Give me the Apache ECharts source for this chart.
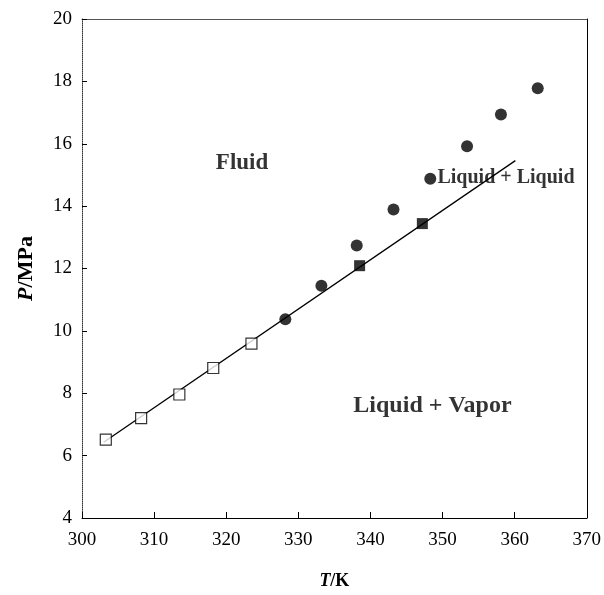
<!DOCTYPE html>
<html><head><meta charset="utf-8">
<script src="https://cdn.jsdelivr.net/npm/echarts@6/dist/echarts.min.js"></script>
<style>html,body{margin:0;padding:0;background:#fff}#c{width:604px;height:595px}</style>
</head><body><div id="c"></div>
<script>
// Open squares (vapor-liquid)
const openSqT = [303.3, 308.2, 313.5, 318.2, 323.5];
const openSqP = [6.51, 7.20, 7.96, 8.81, 9.59];
// Filled circles
const circT = [328.2, 333.2, 338.1, 343.2, 348.3, 353.4, 358.1, 363.2];
const circP = [10.37, 11.45, 12.74, 13.89, 14.88, 15.92, 16.94, 17.78];
// Filled squares
const fillSqT = [338.5, 347.2];
const fillSqP = [12.09, 13.44];
// Fitted line endpoints
const lineT = [303.0, 360.1];
const lineP = [6.43, 15.46];
// Annotations
const annoText = ['Fluid', 'Liquid + Liquid', 'Liquid + Vapor'];
const annoT = [322.2, 358.8, 348.6];
const annoP = [15.39, 14.91, 7.59];
const annoSize = [23, 20, 24];
// Ticks
const xTicks = [300, 310, 320, 330, 340, 350, 360, 370];
const yTicks = [4, 6, 8, 10, 12, 14, 16, 18, 20];

const zip = (a, b) => a.map((v, i) => [v, b[i]]);
const FONT = "'Liberation Serif', 'DejaVu Serif', serif";
const xMin = xTicks[0], xMax = xTicks[xTicks.length - 1];
const yMin = yTicks[0], yMax = yTicks[yTicks.length - 1];

const chart = echarts.init(document.getElementById('c'), null, {renderer: 'canvas'});
chart.setOption({
  animation: false,
  backgroundColor: '#fff',
  grid: {left: 82, right: 17, top: 19, bottom: 72, show: false},
  xAxis: [{
    type: 'value', min: xMin, max: xMax, interval: 10,
    axisLine: {lineStyle: {color: '#000', width: 1}},
    axisTick: {inside: true, length: 6, lineStyle: {color: '#000'}},
    splitLine: {show: false},
    axisLabel: {color: '#000', fontFamily: FONT, fontSize: 19, margin: 13},
    name: '{i|T}{n|/K}', nameLocation: 'middle', nameGap: 54,
    nameTextStyle: {rich: {
      i: {fontFamily: FONT, fontSize: 18, fontWeight: 'bold', fontStyle: 'italic', color: '#000'},
      n: {fontFamily: FONT, fontSize: 18, fontWeight: 'bold', color: '#000'}
    }}
  }, {
    type: 'value', position: 'top', min: xMin, max: xMax, interval: 10,
    axisLine: {show: true, lineStyle: {color: '#555', width: 1}},
    axisTick: {show: false}, axisLabel: {show: false}, splitLine: {show: false}
  }],
  yAxis: [{
    type: 'value', min: yMin, max: yMax, interval: 2,
    axisLine: {show: true, lineStyle: {color: '#333', width: 1, type: [1, 1]}},
    axisTick: {show: true, inside: true, length: 5, lineStyle: {color: '#000'}},
    splitLine: {show: false},
    axisLabel: {color: '#000', fontFamily: FONT, fontSize: 19, margin: 10},
    name: '{i|P}{n|/MPa}', nameLocation: 'middle', nameGap: 45, nameRotate: 90,
    nameTextStyle: {rich: {
      i: {fontFamily: FONT, fontSize: 22, fontWeight: 'bold', fontStyle: 'italic', color: '#000'},
      n: {fontFamily: FONT, fontSize: 22, fontWeight: 'bold', color: '#000'}
    }}
  }, {
    type: 'value', position: 'right', min: yMin, max: yMax, interval: 2,
    axisLine: {show: true, lineStyle: {color: '#000', width: 1}},
    axisTick: {show: false}, axisLabel: {show: false}, splitLine: {show: false}
  }],
  series: [
    {type: 'line', data: zip(lineT, lineP), symbol: 'none', lineStyle: {color: '#000', width: 1.3}, z: 1},
    {type: 'scatter', data: zip(openSqT, openSqP), symbol: 'rect', symbolSize: 11,
      itemStyle: {color: '#fff', borderColor: '#000', borderWidth: 1.2}, z: 3},
    {type: 'scatter', data: zip(circT, circP), symbol: 'circle', symbolSize: 12,
      itemStyle: {color: '#000'}, z: 3},
    {type: 'scatter', data: zip(fillSqT, fillSqP), symbol: 'rect', symbolSize: 11,
      itemStyle: {color: '#000'}, z: 3},
    {type: 'scatter', symbolSize: 0, z: 4, silent: true,
      data: annoText.map((t, i) => ({value: [annoT[i], annoP[i]], name: t,
        label: {show: true, position: 'inside', formatter: t, color: '#000', fontFamily: FONT,
          fontWeight: 'bold', fontSize: annoSize[i]}}))}
  ]
});
</script>
</body></html>
